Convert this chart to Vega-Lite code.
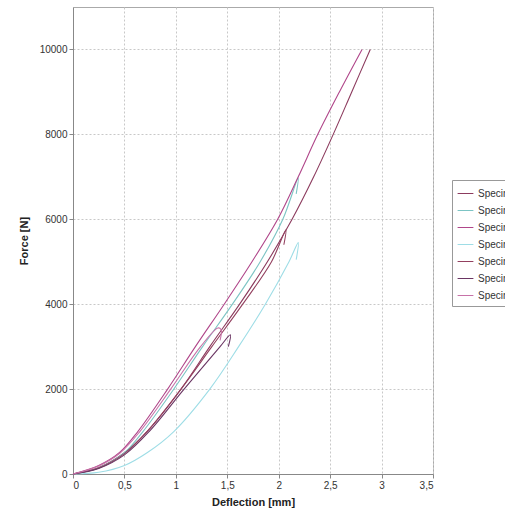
{
  "$schema": "https://vega.github.io/schema/vega-lite/v6.json",
  "width": 360,
  "height": 467,
  "autosize": {"type": "none"},
  "padding": {"left": 73, "top": 7, "right": 72, "bottom": 46},
  "background": "white",
  "config": {
    "font": "Liberation Sans",
    "view": {"stroke": "#aaaaaa", "strokeWidth": 1},
    "axis": {
      "labelFont": "Liberation Sans",
      "labelFontSize": 10,
      "labelColor": "#333333",
      "titleFont": "Liberation Sans",
      "titleFontSize": 11,
      "titleFontWeight": "bold",
      "titleColor": "#222222",
      "domainColor": "#888888",
      "tickColor": "#888888",
      "tickSize": 4,
      "gridColor": "#c8c8c8",
      "gridDash": [2, 2],
      "gridWidth": 1
    },
    "legend": {
      "labelFont": "Liberation Sans",
      "labelFontSize": 10,
      "labelColor": "#333333"
    }
  },
  "data": {
    "values": [
      {"s": "Specimen 1", "i": 0, "x": 0, "f": 0},
      {"s": "Specimen 1", "i": 1, "x": 0.25, "f": 150},
      {"s": "Specimen 1", "i": 2, "x": 0.5, "f": 500},
      {"s": "Specimen 1", "i": 3, "x": 0.72, "f": 1000},
      {"s": "Specimen 1", "i": 4, "x": 1.05, "f": 2000},
      {"s": "Specimen 1", "i": 5, "x": 1.33, "f": 3000},
      {"s": "Specimen 1", "i": 6, "x": 1.62, "f": 4000},
      {"s": "Specimen 1", "i": 7, "x": 1.89, "f": 5000},
      {"s": "Specimen 1", "i": 8, "x": 2.13, "f": 6000},
      {"s": "Specimen 1", "i": 9, "x": 2.34, "f": 7000},
      {"s": "Specimen 1", "i": 10, "x": 2.53, "f": 8000},
      {"s": "Specimen 1", "i": 11, "x": 2.71, "f": 9000},
      {"s": "Specimen 1", "i": 12, "x": 2.89, "f": 10000},

      {"s": "Specimen 2", "i": 0, "x": 0, "f": 0},
      {"s": "Specimen 2", "i": 1, "x": 0.25, "f": 140},
      {"s": "Specimen 2", "i": 2, "x": 0.5, "f": 500},
      {"s": "Specimen 2", "i": 3, "x": 0.68, "f": 1000},
      {"s": "Specimen 2", "i": 4, "x": 0.98, "f": 2000},
      {"s": "Specimen 2", "i": 5, "x": 1.26, "f": 3000},
      {"s": "Specimen 2", "i": 6, "x": 1.55, "f": 4000},
      {"s": "Specimen 2", "i": 7, "x": 1.82, "f": 5000},
      {"s": "Specimen 2", "i": 8, "x": 2.04, "f": 6000},
      {"s": "Specimen 2", "i": 9, "x": 2.19, "f": 6980},
      {"s": "Specimen 2", "i": 10, "x": 2.17, "f": 6600},

      {"s": "Specimen 3", "i": 0, "x": 0, "f": 0},
      {"s": "Specimen 3", "i": 1, "x": 0.25, "f": 200},
      {"s": "Specimen 3", "i": 2, "x": 0.45, "f": 500},
      {"s": "Specimen 3", "i": 3, "x": 0.63, "f": 1000},
      {"s": "Specimen 3", "i": 4, "x": 0.92, "f": 2000},
      {"s": "Specimen 3", "i": 5, "x": 1.19, "f": 3000},
      {"s": "Specimen 3", "i": 6, "x": 1.47, "f": 4000},
      {"s": "Specimen 3", "i": 7, "x": 1.74, "f": 5000},
      {"s": "Specimen 3", "i": 8, "x": 1.99, "f": 6000},
      {"s": "Specimen 3", "i": 9, "x": 2.19, "f": 7000},
      {"s": "Specimen 3", "i": 10, "x": 2.38, "f": 8000},
      {"s": "Specimen 3", "i": 11, "x": 2.59, "f": 9000},
      {"s": "Specimen 3", "i": 12, "x": 2.81, "f": 10000},

      {"s": "Specimen 4", "i": 0, "x": 0, "f": 0},
      {"s": "Specimen 4", "i": 1, "x": 0.25, "f": 40},
      {"s": "Specimen 4", "i": 2, "x": 0.5, "f": 200},
      {"s": "Specimen 4", "i": 3, "x": 0.72, "f": 500},
      {"s": "Specimen 4", "i": 4, "x": 0.98, "f": 1000},
      {"s": "Specimen 4", "i": 5, "x": 1.33, "f": 2000},
      {"s": "Specimen 4", "i": 6, "x": 1.61, "f": 3000},
      {"s": "Specimen 4", "i": 7, "x": 1.87, "f": 4000},
      {"s": "Specimen 4", "i": 8, "x": 2.1, "f": 5000},
      {"s": "Specimen 4", "i": 9, "x": 2.19, "f": 5450},
      {"s": "Specimen 4", "i": 10, "x": 2.17, "f": 5050},

      {"s": "Specimen 5", "i": 0, "x": 0, "f": 0},
      {"s": "Specimen 5", "i": 1, "x": 0.25, "f": 140},
      {"s": "Specimen 5", "i": 2, "x": 0.5, "f": 480},
      {"s": "Specimen 5", "i": 3, "x": 0.72, "f": 1000},
      {"s": "Specimen 5", "i": 4, "x": 1.05, "f": 2000},
      {"s": "Specimen 5", "i": 5, "x": 1.35, "f": 3000},
      {"s": "Specimen 5", "i": 6, "x": 1.65, "f": 4000},
      {"s": "Specimen 5", "i": 7, "x": 1.93, "f": 5000},
      {"s": "Specimen 5", "i": 8, "x": 2.07, "f": 5755},
      {"s": "Specimen 5", "i": 9, "x": 2.05, "f": 5400},

      {"s": "Specimen 6", "i": 0, "x": 0, "f": 0},
      {"s": "Specimen 6", "i": 1, "x": 0.25, "f": 130},
      {"s": "Specimen 6", "i": 2, "x": 0.5, "f": 450},
      {"s": "Specimen 6", "i": 3, "x": 0.74, "f": 1000},
      {"s": "Specimen 6", "i": 4, "x": 1.08, "f": 2000},
      {"s": "Specimen 6", "i": 5, "x": 1.43, "f": 3000},
      {"s": "Specimen 6", "i": 6, "x": 1.53, "f": 3280},
      {"s": "Specimen 6", "i": 7, "x": 1.51, "f": 3000},

      {"s": "Specimen 7", "i": 0, "x": 0, "f": 0},
      {"s": "Specimen 7", "i": 1, "x": 0.25, "f": 190},
      {"s": "Specimen 7", "i": 2, "x": 0.46, "f": 500},
      {"s": "Specimen 7", "i": 3, "x": 0.65, "f": 1000},
      {"s": "Specimen 7", "i": 4, "x": 0.95, "f": 2000},
      {"s": "Specimen 7", "i": 5, "x": 1.24, "f": 3000},
      {"s": "Specimen 7", "i": 6, "x": 1.41, "f": 3440},
      {"s": "Specimen 7", "i": 7, "x": 1.44, "f": 3400},
      {"s": "Specimen 7", "i": 8, "x": 1.43, "f": 3150}
    ]
  },
  "mark": {"type": "line", "strokeWidth": 1.1, "interpolate": "catmull-rom"},
  "encoding": {
    "x": {
      "field": "x",
      "type": "quantitative",
      "title": "Deflection [mm]",
      "scale": {"domain": [0, 3.5], "nice": false},
      "axis": {
        "values": [0, 0.5, 1, 1.5, 2, 2.5, 3, 3.5],
        "labelExpr": "replace(toString(datum.value), '.', ',')",
        "titlePadding": 6
      }
    },
    "y": {
      "field": "f",
      "type": "quantitative",
      "title": "Force [N]",
      "scale": {"domain": [0, 11000], "nice": false},
      "axis": {
        "values": [0, 2000, 4000, 6000, 8000, 10000],
        "format": "d",
        "titlePadding": 10
      }
    },
    "color": {
      "field": "s",
      "type": "nominal",
      "title": null,
      "scale": {
        "domain": ["Specimen 1", "Specimen 2", "Specimen 3", "Specimen 4", "Specimen 5", "Specimen 6", "Specimen 7"],
        "range": ["#8c3b5e", "#7cc4c4", "#b0468a", "#9edde6", "#93405f", "#6a3563", "#c772a8"]
      },
      "legend": {
        "orient": "none",
        "legendX": 379,
        "legendY": 173,
        "symbolType": "stroke",
        "symbolSize": 250,
        "symbolStrokeWidth": 1,
        "rowPadding": 3,
        "padding": 5,
        "labelOffset": 4,
        "strokeColor": "#999999",
        "fillColor": "white"
      }
    },
    "order": {"field": "i", "type": "quantitative"}
  }
}
